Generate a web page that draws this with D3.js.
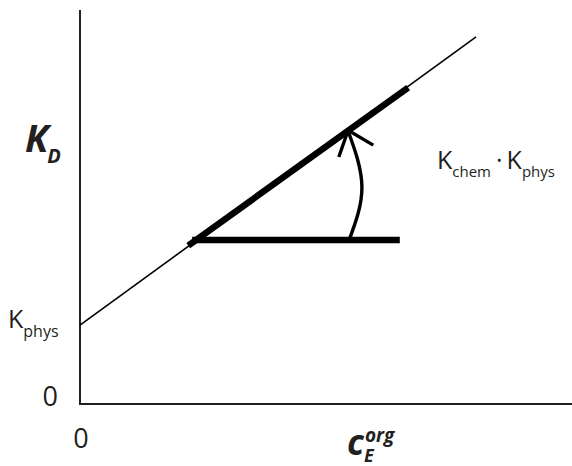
<!DOCTYPE html>
<html>
<head>
<meta charset="utf-8">
<script src="https://cdn.jsdelivr.net/npm/d3@7"></script>
<style>
  body { margin: 0; background: #fff; }
  text { font-family: "Open Sans", "Noto Sans", sans-serif; fill: #231f20; }
</style>
</head>
<body>
<div id="chart"></div>
<script>
var width = 572;
var height = 466;

// values (axis units 0..10)
var xDomain = [0, 10];
var yDomain = [0, 10];
var kPhys = 2.0;
var linePts = [[0, 2.0], [8.05, 9.32]];
var chemPts = [[2.2, 4.02], [6.67, 8.03]];
var basePts = [[2.28, 4.16], [6.5, 4.16]];
var arcPts = [[5.47, 4.16], [5.73, 5.51], [5.45, 6.93]];
var headPts = [[5.26, 6.27], [5.45, 6.95], [5.96, 6.57]];
var zeroLabel = "0";

var x = d3.scaleLinear().domain(xDomain).range([80, 572]);
var y = d3.scaleLinear().domain(yDomain).range([404, 10]);

var svg = d3.select("#chart")
  .append("svg")
  .attr("width", width)
  .attr("height", height);

var line = d3.line()
  .x(function(d) { return x(d[0]); })
  .y(function(d) { return y(d[1]); });

// axes
svg.append("path")
  .attr("d", line([[xDomain[0], yDomain[1]], [xDomain[0], yDomain[0]], [xDomain[1], yDomain[0]]]))
  .attr("fill", "none")
  .attr("stroke", "#231f20")
  .attr("stroke-width", 2);

// thin KD line
svg.append("path")
  .attr("d", line(linePts))
  .attr("fill", "none")
  .attr("stroke", "#000")
  .attr("stroke-width", 1.6);

// thick segments
svg.append("path")
  .attr("d", line(chemPts))
  .attr("stroke", "#000")
  .attr("stroke-width", 6.5);

svg.append("path")
  .attr("d", line(basePts))
  .attr("stroke", "#000")
  .attr("stroke-width", 6.5);

// curved arrow
svg.append("path")
  .attr("d", line.curve(d3.curveNatural)(arcPts))
  .attr("fill", "none")
  .attr("stroke", "#000")
  .attr("stroke-width", 3.4);

svg.append("path")
  .attr("d", line.curve(d3.curveLinear)(headPts))
  .attr("fill", "none")
  .attr("stroke", "#000")
  .attr("stroke-width", 3.4);

// labels
svg.append("text")
  .attr("x", x(0) - 22).attr("y", y(0) + 2)
  .attr("text-anchor", "end")
  .style("font-size", "27px")
  .text(zeroLabel);

svg.append("text")
  .attr("x", x(0) + 1).attr("y", 448)
  .attr("text-anchor", "middle")
  .style("font-size", "27px")
  .text(zeroLabel);

var kp = svg.append("text")
  .attr("x", 8).attr("y", y(kPhys) + 3)
  .style("font-size", "25px");
kp.append("tspan").text("K");
kp.append("tspan").attr("dy", 9).style("font-size", "16px").text("phys");

var kd = svg.append("text")
  .attr("x", 25).attr("y", 152)
  .style("font-size", "38px")
  .style("font-weight", "bold")
  .style("font-style", "italic");
kd.append("tspan").text("K");
kd.append("tspan").attr("dx", -1).attr("dy", 11).style("font-size", "20px").text("D");

var kc = svg.append("text")
  .attr("x", 437).attr("y", 169)
  .style("font-size", "25px");
kc.append("tspan").text("K");
kc.append("tspan").attr("dy", 8).style("font-size", "15px").text("chem");
kc.append("tspan").attr("dx", 5).attr("dy", -8).text("\u00b7");
kc.append("tspan").attr("dx", 4).text("K");
kc.append("tspan").attr("dy", 8).style("font-size", "15px").text("phys");

var ce = svg.append("text")
  .attr("x", 347).attr("y", 455)
  .style("font-size", "35px")
  .style("font-weight", "bold")
  .style("font-style", "italic");
ce.append("tspan").text("c");
ce.append("tspan").attr("dx", 1).attr("dy", -13).style("font-size", "19px").text("org");
ce.append("tspan").attr("x", 364).attr("dy", 20).style("font-size", "18px").text("E");
</script>
</body>
</html>
